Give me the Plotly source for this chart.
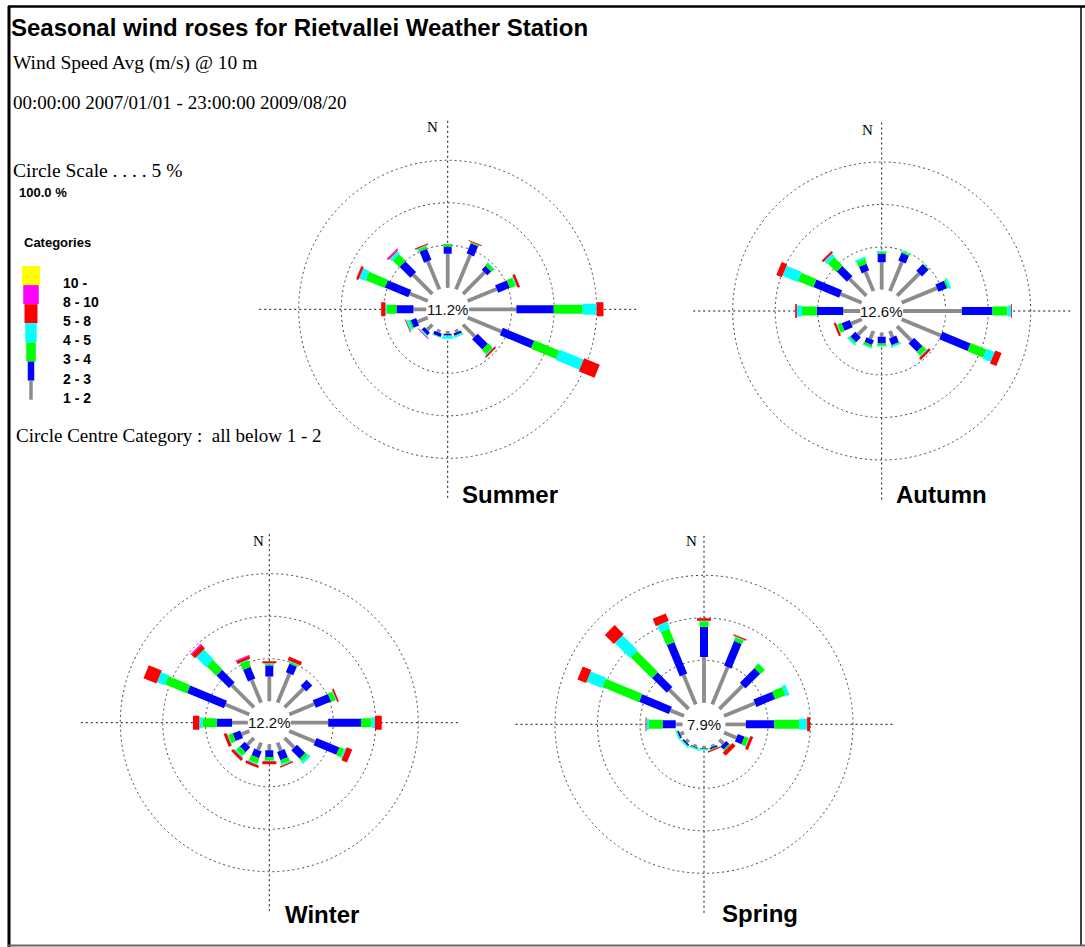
import plotly.graph_objects as go

W, H = 1085, 947

# ---------------- data ----------------
directions = ["N", "NNE", "NE", "ENE", "E", "ESE", "SE", "SSE",
              "S", "SSW", "SW", "WSW", "W", "WNW", "NW", "NNW"]
categories = ["1 - 2", "2 - 3", "3 - 4", "4 - 5", "5 - 8", "8 - 10", "10 -"]
seasons = ["Summer", "Autumn", "Winter", "Spring"]
calm_pct = [11.2, 12.6, 12.2, 7.9]          # circle centre: all below 1 - 2

#                N    NNE  NE   ENE  E     ESE  SE   SSE   S     SSW  SW    WSW   W     WNW  NW   NNW
summer_1_2  = [4.0, 4.4, 3.6, 3.7, 5.55, 4.3, 2.0, 0.35, 0.35, 0.4, 0.9,  1.3,  1.5,  2.3, 3.2, 3.6]
summer_2_3  = [0.85, 1.3, 0.65, 1.5, 4.4, 4.0, 1.7, 0.3, 0.2,  0.4, 0.4,  0.7,  2.0,  3.0, 1.8, 1.4]
summer_3_4  = [0.3, 0.15, 0.4, 0.7, 3.4,  3.2, 0.7, 0.1, 0.1,  0.1, 0.1,  0.2,  1.15, 2.4, 1.1, 0.3]
summer_4_5  = [0.0, 0.0, 0.1, 0.15, 1.65, 3.0, 0.1, 0.15, 0.3, 0.0, 0.1,  0.3,  0.15, 0.8, 0.4, 0.1]
summer_5_8  = [0.0, 0.1, 0.0, 0.3, 0.8,  2.0, 0.2, 0.0, 0.0,  0.0, 0.0,  0.1,  0.5,  0.3, 0.15, 0.15]
summer_8_10 = [0.0, 0.0, 0.0, 0.0, 0.0,  0.0, 0.0, 0.0, 0.0,  0.0, 0.1,  0.0,  0.0,  0.0, 0.1, 0.0]
summer_10   = [0.0] * 16

autumn_1_2  = [3.2, 3.7, 3.7, 4.5, 6.9,  5.0, 2.4, 0.8, 0.5,  1.0, 1.4,  1.35, 2.0,  2.7, 2.8, 2.45]
autumn_2_3  = [1.0, 1.0, 1.1, 1.1, 3.6,  3.6, 1.4, 0.85, 0.8, 0.6, 0.8,  1.05, 3.1,  3.3, 1.7, 0.85]
autumn_3_4  = [0.2, 0.2, 0.1, 0.2, 1.75, 2.0, 0.55, 0.1, 0.25, 0.3, 0.2, 0.5,  1.75, 1.95, 1.4, 0.6]
autumn_4_5  = [0.1, 0.1, 0.0, 0.25, 0.45, 1.0, 0.15, 0.15, 0.1, 0.1, 0.2, 0.1, 0.6,  1.9, 0.5, 0.25]
autumn_5_8  = [0.0, 0.0, 0.0, 0.0, 0.1,  0.8, 0.3, 0.0, 0.0,  0.0, 0.0,  0.25, 0.2,  0.7, 0.25, 0.0]
autumn_8_10 = [0.0] * 16
autumn_10   = [0.0] * 16

winter_1_2  = [2.9, 3.7, 3.15, 3.2, 4.4, 3.3, 1.6, 1.0, 0.7,  0.95, 1.1,  1.0,  1.85, 3.05, 3.7, 2.9]
winter_2_3  = [1.3, 1.1, 1.0, 1.95, 3.9, 2.9, 1.4, 1.05, 0.8, 0.85, 0.8,  0.95, 1.8,  4.7, 2.1, 1.5]
winter_3_4  = [0.15, 0.2, 0.0, 0.55, 1.2, 0.6, 0.4, 0.45, 0.4, 0.65, 0.55, 0.55, 1.65, 2.8, 1.6, 0.8]
winter_4_5  = [0.1, 0.1, 0.0, 0.1, 0.4,  0.2, 0.3, 0.2, 0.1,  0.15, 0.2,  0.1,  0.4,  0.95, 1.6, 0.1]
winter_5_8  = [0.25, 0.45, 0.0, 0.2, 0.8, 0.7, 0.0, 0.15, 0.35, 0.3, 0.35, 0.35, 0.75, 1.65, 0.6, 0.35]
winter_8_10 = [0.0, 0.0, 0.0, 0.0, 0.0,  0.0, 0.0, 0.0, 0.0,  0.0, 0.0,  0.0,  0.0,  0.0, 0.15, 0.1]
winter_10   = [0.0] * 16

spring_1_2  = [5.4, 4.75, 3.9, 3.95, 2.4, 1.6, 0.7, 0.3, 0.25, 0.3, 0.4,  0.5,  0.8,  1.75, 3.2, 3.75]
spring_2_3  = [3.55, 3.15, 2.45, 2.4, 3.35, 0.85, 0.5, 0.2, 0.1, 0.1, 0.2, 0.2,  1.55, 3.8, 2.45, 4.0]
spring_3_4  = [0.6, 0.45, 0.7, 1.3, 2.9,  0.5, 0.2, 0.1, 0.1,  0.1, 0.1,  0.1,  1.6,  4.65, 3.5, 1.7]
spring_4_5  = [0.1, 0.1, 0.05, 0.45, 0.95, 0.1, 0.0, 0.0, 0.1, 0.1, 0.1,  0.1,  0.3,  1.95, 2.5, 0.85]
spring_5_8  = [0.3, 0.15, 0.0, 0.0, 0.35, 0.35, 0.5, 0.15, 0.0, 0.0, 0.0,  0.0,  0.1,  1.1, 1.5, 0.95]
spring_8_10 = [0.0] * 16
spring_10   = [0.0] * 16

season_data = [
    [summer_1_2, summer_2_3, summer_3_4, summer_4_5, summer_5_8, summer_8_10, summer_10],
    [autumn_1_2, autumn_2_3, autumn_3_4, autumn_4_5, autumn_5_8, autumn_8_10, autumn_10],
    [winter_1_2, winter_2_3, winter_3_4, winter_4_5, winter_5_8, winter_8_10, winter_10],
    [spring_1_2, spring_2_3, spring_3_4, spring_4_5, spring_5_8, spring_8_10, spring_10],
]

# ---------------- styles / layout ----------------
cat_colors = ["#8c8c8c", "#0000ff", "#00ff00", "#00ffff", "#ff0000", "#ff00ff", "#ffff00"]
seg_widths = [3.8, 8, 9, 11, 14, 15, 17]

rose_centers = [(447.7, 309.3), (881.7, 311.0), (269.3, 722.7), (704.0, 724.3)]  # pixels
season_label_pos = [(510, 494), (941, 494), (322, 914), (760, 913)]
north_label_pos = [(432, 127), (867, 130), (258, 541), (691, 541)]
R_PX = 190.0          # crosshair half length
HOLE_PX = 21.5        # centre circle radius
PX_PER_PCT = 8.5      # one 5 % ring = 42.5 px

SANS = "Liberation Sans, Arial, sans-serif"
SERIF = "Liberation Serif, Times New Roman, serif"


def px(x):
    return x / W


def py(y):
    return 1 - y / H


fig = go.Figure()

dirs_deg = [i * 360.0 / len(directions) for i in range(len(directions))]

for si, season in enumerate(seasons):
    sub = "polar" if si == 0 else f"polar{si + 1}"
    data = season_data[si]
    cum = [0.0] * len(directions)
    for ci, vals in enumerate(data):
        r, th = [], []
        for d, v in enumerate(vals):
            if v > 0:
                r += [cum[d], cum[d] + v, None]
                th += [dirs_deg[d], dirs_deg[d], None]
            cum[d] += v
        if r:
            fig.add_trace(go.Scatterpolar(
                r=r, theta=th, mode="lines", subplot=sub,
                line=dict(color=cat_colors[ci], width=seg_widths[ci]),
                name=categories[ci], showlegend=False, hoverinfo="skip"))

grid_dash = "2px,3px"
for si in range(4):
    cx, cy = rose_centers[si]
    key = "polar" if si == 0 else f"polar{si + 1}"
    fig.layout[key] = dict(
        domain=dict(x=[px(cx - R_PX), px(cx + R_PX)], y=[py(cy + R_PX), py(cy - R_PX)]),
        hole=HOLE_PX / R_PX,
        bgcolor="rgba(0,0,0,0)",
        radialaxis=dict(range=[0, (R_PX - HOLE_PX) / PX_PER_PCT], tickvals=[5, 10, 15],
                        showticklabels=False, ticks="", showline=False,
                        gridcolor="#444444", gridwidth=1, griddash=grid_dash,
                        layer="below traces"),
        angularaxis=dict(rotation=90, direction="clockwise", tickvals=[0, 90, 180, 270],
                         showticklabels=False, ticks="", showline=False,
                         gridcolor="#111111", gridwidth=1, griddash=grid_dash,
                         layer="below traces"),
    )

annotations = []


def add_text(x, y, text, size, family, weight="normal", xanchor="left", color="#000"):
    annotations.append(dict(x=px(x), y=py(y), xref="paper", yref="paper", text=text,
                            showarrow=False, xanchor=xanchor, yanchor="middle",
                            font=dict(size=size, family=family, color=color, weight=weight)))


add_text(9, 27, "Seasonal wind roses for Rietvallei Weather Station", 24, SANS, "bold")
add_text(11, 63, "Wind Speed Avg (m/s) @ 10 m", 19.5, SERIF)
add_text(11, 102, "00:00:00 2007/01/01 - 23:00:00 2009/08/20", 19, SERIF)
add_text(11, 170, "Circle Scale . . . . 5 %", 19.5, SERIF)
add_text(17, 193, "100.0 %", 13, SANS, "bold")
add_text(22, 242, "Categories", 13, SANS, "bold")
add_text(14, 436, "Circle Centre Category :  all below 1 - 2", 19, SERIF)

for si, season in enumerate(seasons):
    cx, cy = rose_centers[si]
    add_text(cx, cy, f"{calm_pct[si]}%", 15, SANS, xanchor="center", color="#111")
    sx, sy = season_label_pos[si]
    add_text(sx, sy, season, 24, SANS, "bold", xanchor="center")
    nx, ny = north_label_pos[si]
    add_text(nx, ny, "N", 15, SERIF, xanchor="center")

# legend swatches (top to bottom: 10 -, 8 - 10, ... 1 - 2)
shapes = []
legend_w = [18, 15.5, 13, 11.5, 9.5, 6.5, 3.5]
legend_top, legend_step, legend_cx = 266, 19.1, 31
for k in range(len(categories)):
    ci = len(categories) - 1 - k
    top = legend_top + k * legend_step
    bot = top + legend_step
    w = legend_w[k]
    shapes.append(dict(type="rect", xref="paper", yref="paper",
                       x0=px(legend_cx - w / 2), x1=px(legend_cx + w / 2),
                       y0=py(bot), y1=py(top), fillcolor=cat_colors[ci], line=dict(width=0)))
    add_text(61, (top + bot) / 2 + 7.5, categories[ci], 14, SANS, "bold")

# frame
shapes.append(dict(type="line", xref="paper", yref="paper", x0=px(9), x1=px(9),
                   y0=py(6), y1=py(947), line=dict(color="#000", width=3)))
shapes.append(dict(type="line", xref="paper", yref="paper", x0=px(8), x1=px(1085),
                   y0=py(6.5), y1=py(6.5), line=dict(color="#000", width=2.5)))
shapes.append(dict(type="line", xref="paper", yref="paper", x0=px(1081), x1=px(1081),
                   y0=py(6), y1=py(946), line=dict(color="#000", width=1.5)))
shapes.append(dict(type="line", xref="paper", yref="paper", x0=px(8), x1=px(1085),
                   y0=py(945.5), y1=py(945.5), line=dict(color="#666", width=2)))

fig.update_layout(width=W, height=H, autosize=False,
                  margin=dict(l=0, r=0, t=0, b=0, pad=0),
                  paper_bgcolor="white", plot_bgcolor="white",
                  showlegend=False, annotations=annotations, shapes=shapes)

fig.write_html("out.html", include_plotlyjs=True, config={"displayModeBar": False},
               post_script="document.body.style.margin='0';document.body.style.overflow='hidden';")
